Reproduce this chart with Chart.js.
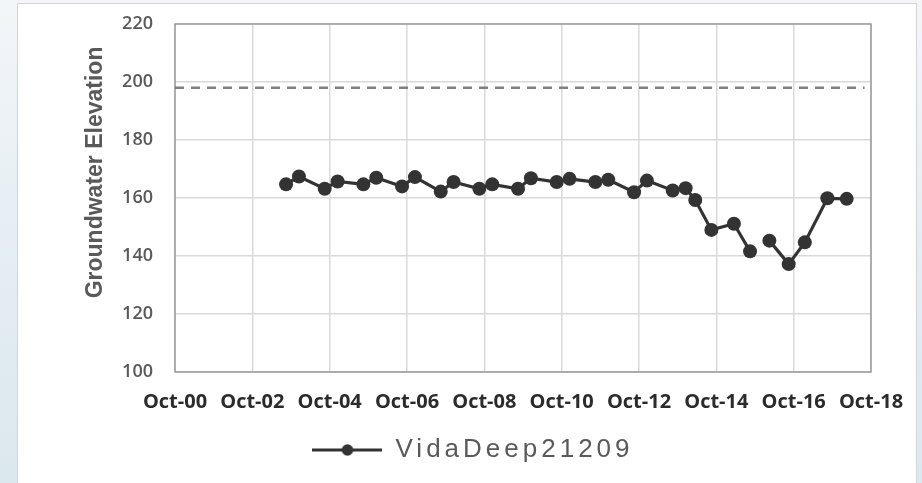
<!DOCTYPE html>
<html><head><meta charset="utf-8">
<script src="https://cdn.jsdelivr.net/npm/chart.js@4/dist/chart.umd.min.js"></script>
<style>
html,body{margin:0;padding:0;}
body{width:922px;height:483px;overflow:hidden;position:relative;background:linear-gradient(180deg,#f3f6f9 0%,#e4edf2 55%,#dbe8ee 100%);}
#panel{position:absolute;left:17px;top:3px;width:900px;height:490px;background:#fff;border:1px solid #d4d4d4;box-sizing:border-box;}
#wrap{position:absolute;left:0;top:0;width:922px;height:483px;}
</style></head><body>
<div id="panel"></div>
<div id="wrap"><canvas id="c" width="922" height="483"></canvas></div>
<script>
// ---- data ----
const seriesName = 'VidaDeep21209';
const sampleDates = ['2003-08-15','2003-12-15','2004-08-15','2004-12-15','2005-08-15','2005-12-15',
  '2006-08-15','2006-12-15','2007-08-15','2007-12-15','2008-08-15','2008-12-15','2009-08-15','2009-12-15',
  '2010-08-15','2010-12-15','2011-08-15','2011-12-15','2012-08-15','2012-12-15','2013-08-15','2013-12-15',
  '2014-03-15','2014-08-15','2015-03-15','2015-08-15','2015-11-15','2016-02-15','2016-08-15','2017-01-15',
  '2017-08-15','2018-02-15'];
const elevations = [164.7,167.4,163.2,165.7,164.7,167.0,
  164.0,167.2,162.2,165.5,163.2,164.7,163.2,166.8,
  165.5,166.6,165.5,166.3,162.0,166.0,162.6,163.4,
  159.3,149.0,151.1,141.6,null,145.3,137.2,144.7,
  159.9,159.7];
const refLineDates = ['2000-10-01','2018-08-01'];
const refLineValues = [198,198];
const tickDates = ['2000-10-01','2002-10-01','2004-10-01','2006-10-01','2008-10-01','2010-10-01',
  '2012-10-01','2014-10-01','2016-10-01','2018-10-01'];
const tickLabels = ['Oct-00','Oct-02','Oct-04','Oct-06','Oct-08','Oct-10','Oct-12','Oct-14','Oct-16','Oct-18'];
const yMin = 100, yMax = 220, yStep = 20;
const yTitle = 'Groundwater Elevation';

// ---- helpers ----
function toYear(s){
  const [y,m,d] = s.split('-').map(Number);
  return y + (m - 1 + (d - 1) / 30.44) / 12;
}
const tickValues = tickDates.map(toYear);
const seriesPts = sampleDates.map((d,i)=>({x:toYear(d), y:elevations[i]}));
const refPts = refLineDates.map((d,i)=>({x:toYear(d), y:refLineValues[i]}));

const lineColor = '#333333';
const legendIcon = document.createElement('canvas');
legendIcon.width = 70; legendIcon.height = 14;
(function(){
  const g = legendIcon.getContext('2d');
  g.strokeStyle = lineColor; g.lineWidth = 3;
  g.beginPath(); g.moveTo(0,7); g.lineTo(70,7); g.stroke();
  g.fillStyle = lineColor; g.beginPath(); g.arc(35,7,5.8,0,Math.PI*2); g.fill();
})();

const frame = {
  id:'frame',
  beforeDatasetsDraw(chart){
    const a = chart.chartArea, c = chart.ctx;
    c.save(); c.strokeStyle = '#9a9a9a'; c.lineWidth = 1.5;
    c.strokeRect(a.left, a.top, a.right - a.left, a.bottom - a.top);
    c.restore();
  }
};

// widen legend lettering (reference legend text is widely spaced)
const legendSpacing = {
  id:'legendSpacing',
  beforeLayout(chart){
    const lg = chart.legend;
    if (!lg || lg._spaced) return;
    lg._spaced = true;
    const wrap = (fn) => function(...args){
      const c = this.ctx; const prev = c.letterSpacing;
      c.letterSpacing = '4px';
      try { return fn.apply(this, args); } finally { c.letterSpacing = prev || '0px'; }
    };
    lg.fit = wrap(lg.fit);
    lg.draw = wrap(lg.draw);
  }
};

new Chart(document.getElementById('c'), {
  type:'line',
  data:{ datasets:[
    { label:seriesName, data:seriesPts, borderColor:lineColor, backgroundColor:lineColor,
      borderWidth:3.2, pointRadius:7, pointBackgroundColor:lineColor, pointBorderColor:lineColor,
      pointBorderWidth:0, tension:0, spanGaps:false },
    { label:'ref', data:refPts, borderColor:'#808080', borderWidth:2.5, borderDash:[9,7],
      pointRadius:0, tension:0, fill:false }
  ]},
  options:{
    responsive:false, animation:false, devicePixelRatio:1,
    layout:{ padding:{left:75, right:51, top:24, bottom:10} },
    plugins:{
      tooltip:{enabled:false},
      legend:{
        position:'bottom',
        labels:{
          usePointStyle:true, pointStyleWidth:70, padding:10,
          font:{family:'Liberation Sans', size:26}, color:'#595959',
          filter:(item)=>item.datasetIndex===0,
          generateLabels(chart){
            const items = Chart.defaults.plugins.legend.labels.generateLabels(chart);
            items.forEach(it=>{ it.pointStyle = legendIcon; });
            return items;
          }
        }
      }
    },
    scales:{
      x:{
        type:'linear', min:tickValues[0], max:tickValues[tickValues.length-1],
        afterBuildTicks(s){ s.ticks = tickValues.map(v=>({value:v})); },
        afterFit(s){ s.height = 55; },
        grid:{ color:'#d9d9d9', lineWidth:1.5, drawTicks:false },
        border:{ display:false },
        ticks:{
          autoSkip:false, maxRotation:0, padding:18,
          font:{family:'Open Sans', size:20, weight:'bold'}, color:'#2b2b2b',
          callback(v){ const i = tickValues.findIndex(t=>Math.abs(t-v)<1e-6); return i>=0 ? tickLabels[i] : ''; }
        }
      },
      y:{
        min:yMin, max:yMax,
        afterFit(s){ s.width = 100; s.paddingTop = 0; s.paddingBottom = 0; },
        grid:{ color:'#d9d9d9', lineWidth:1.5, drawTicks:false },
        border:{ display:false },
        ticks:{ stepSize:yStep, padding:22, font:{family:'Open Sans', size:18, weight:'600'}, color:'#595959' },
        title:{ display:true, text:' '.repeat(8) + yTitle, color:'#595959', padding:{top:7,bottom:0},
          font:{family:'Liberation Sans', size:23, weight:'bold'} }
      }
    }
  },
  plugins:[frame, legendSpacing]
});
</script>
</body></html>
